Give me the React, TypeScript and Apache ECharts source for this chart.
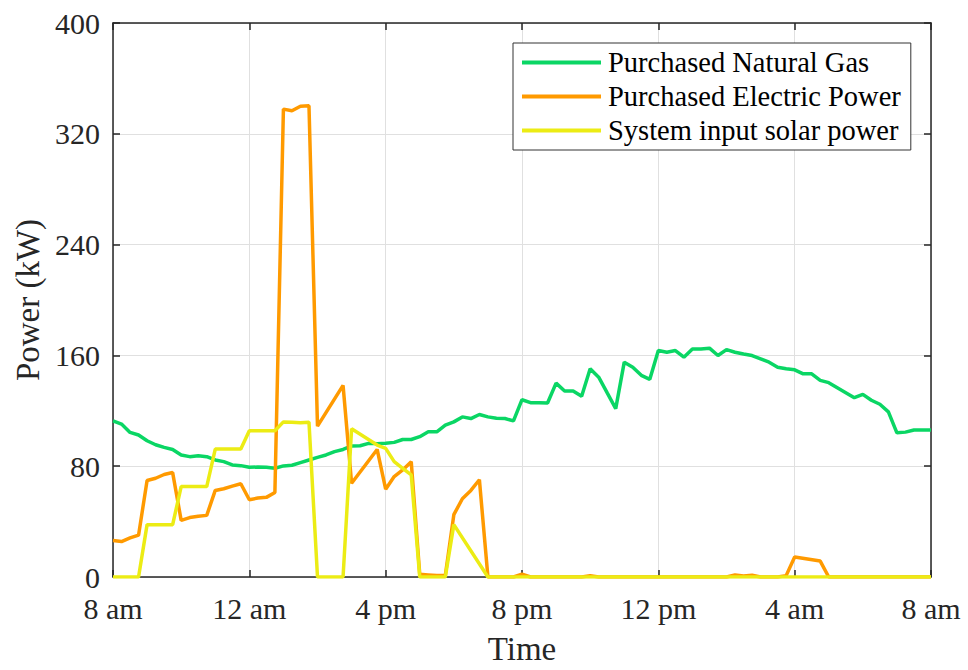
import React, { useEffect, useRef } from "react";
import * as echarts from "echarts";

// Hours since 8 am, ticks every 4 hours
const tickLabels = ["8 am", "12 am", "4 pm", "8 pm", "12 pm", "4 am", "8 am"];

// Purchased natural gas, 15-minute steps from 8 am (kW)
const gasValues = [
  112.7, 110.4, 104.4, 102.5, 98.4, 95.5, 93.6, 92.1, 88.1, 86.9, 87.6, 86.9,
  84.5, 83.3, 80.9, 80.4, 79.2, 79.4, 79.2, 78.5, 80.2, 80.7, 82.6, 84.5,
  86.4, 88.1, 90.5, 92.1, 94.6, 94.8, 96.5, 96.3, 96.5, 97.2, 99.3, 99.3,
  101.3, 104.8, 104.8, 109.6, 112.0, 115.6, 114.4, 117.3, 115.6, 114.6, 114.4, 112.7,
  128.0, 125.9, 125.9, 125.6, 140.0, 134.3, 134.3, 130.5, 150.3, 144.3, 132.9, 121.6,
  155.1, 151.5, 145.6, 142.7, 163.5, 162.3, 163.5, 158.7, 164.7, 164.7, 165.2, 159.9,
  164.2, 162.3, 161.0, 159.9, 157.5, 155.1, 151.5, 150.3, 149.6, 146.7, 146.7, 142.0,
  140.3, 136.7, 133.1, 129.5, 131.9, 127.6, 124.7, 119.2, 104.1, 104.6, 106.1, 106.1,
  106.1,
];

// Purchased electric power, [hour, kW] breakpoints
const electricPoints: [number, number][] = [
  [0, 26.3], [0.25, 25.6], [0.5, 28.2], [0.75, 30.2],
  [1.0, 69.7], [1.25, 71.3], [1.5, 74.0], [1.75, 75.4],
  [2.0, 40.9], [2.25, 42.9], [2.5, 43.8], [2.75, 44.5],
  [3.0, 62.5], [3.25, 63.7], [3.5, 65.6], [3.75, 67.3],
  [4.0, 55.8], [4.25, 57.0], [4.5, 57.5], [4.75, 61.0],
  [5.0, 337.8], [5.25, 336.6], [5.5, 339.9], [5.75, 340.2],
  [6.0, 108.9], [6.75, 138.4], [7.0, 67.7], [7.75, 92.1],
  [8.0, 63.4], [8.25, 72.5], [8.5, 77.3], [8.75, 83.3],
  [9.0, 1.9], [9.25, 1.5], [9.5, 1.0], [9.75, 1.0],
  [10.0, 45.0], [10.25, 56.5], [10.5, 62.5], [10.75, 70.2],
  [11.0, 0], [11.75, 0], [12.0, 2.0], [12.25, 0], [13.75, 0], [14.0, 1.0], [14.25, 0],
  [18.0, 0], [18.25, 1.5], [18.5, 0.8], [18.75, 1.3], [19.0, 0], [19.5, 0], [19.75, 1.0],
  [20.0, 14.4], [20.75, 11.5], [21.0, 0], [24.0, 0],
];

// System input solar power, [hour, kW] breakpoints
const solarPoints: [number, number][] = [
  [0, 0], [0.75, 0], [1.0, 37.8], [1.75, 37.8], [2.0, 65.3], [2.75, 65.3],
  [3.0, 92.4], [3.75, 92.4], [4.0, 105.6], [4.75, 105.6],
  [5.0, 112.0], [5.25, 111.8], [5.5, 111.4], [5.75, 111.8],
  [6.0, 0], [6.75, 0], [7.0, 107.0], [7.75, 95.3], [8.0, 92.9],
  [8.25, 83.3], [8.5, 78.5], [8.75, 73.7], [9.0, 0], [9.75, 0],
  [10.0, 37.8], [11.0, 0], [24.0, 0],
];

const seriesNames = [
  "Purchased Natural Gas",
  "Purchased Electric Power",
  "System input solar power",
];

const FONT = "'Liberation Serif', 'Times New Roman', serif";
const INK = "#262626";

export default function App() {
  const ref = useRef<HTMLDivElement>(null);

  useEffect(() => {
    if (!ref.current) return;
    const chart = echarts.init(ref.current, undefined, { renderer: "svg" });
    const gasData = gasValues.map((v, i) => [i * 0.25, v]);

    const axisCommon = {
      type: "value" as const,
      axisLine: { show: true, onZero: false, lineStyle: { color: INK, width: 1.5 } },
      axisTick: { show: true, inside: true, length: 7, lineStyle: { color: INK, width: 1.5 } },
    };

    chart.setOption({
      animation: false,
      backgroundColor: "#ffffff",
      grid: { left: 113, right: 37, top: 23, bottom: 89 },
      legend: {
        orient: "vertical",
        left: 513,
        top: 43,
        padding: [4, 10, 4, 9],
        itemGap: 3,
        itemWidth: 79,
        itemHeight: 4,
        icon: "rect",
        borderColor: "#333333",
        borderWidth: 1,
        backgroundColor: "#ffffff",
        borderRadius: 0,
        textStyle: { fontFamily: FONT, fontSize: 28.5, color: "#000000", lineHeight: 31, padding: [0, 0, 0, 2] },
        data: seriesNames,
      },
      xAxis: [
        {
          ...axisCommon,
          min: 0,
          max: 24,
          interval: 4,
          position: "bottom",
          name: "Time",
          nameLocation: "middle",
          nameGap: 55,
          nameTextStyle: { fontFamily: FONT, fontSize: 33, color: INK },
          axisLabel: {
            fontFamily: FONT,
            fontSize: 30,
            color: INK,
            margin: 16,
            formatter: (v: number) => tickLabels[Math.round(v / 4)] ?? "",
          },
          splitLine: { show: true, lineStyle: { color: "#e0e0e0", width: 1 } },
        },
        {
          ...axisCommon,
          min: 0,
          max: 24,
          interval: 4,
          position: "top",
          axisLabel: { show: false },
          splitLine: { show: false },
        },
      ],
      yAxis: [
        {
          ...axisCommon,
          min: 0,
          max: 400,
          interval: 80,
          position: "left",
          name: "Power (kW)",
          nameLocation: "middle",
          nameGap: 66,
          nameTextStyle: { fontFamily: FONT, fontSize: 33, color: INK },
          axisLabel: { fontFamily: FONT, fontSize: 30, color: INK, margin: 13 },
          splitLine: { show: true, lineStyle: { color: "#e0e0e0", width: 1 } },
        },
        {
          ...axisCommon,
          min: 0,
          max: 400,
          interval: 80,
          position: "right",
          axisLabel: { show: false },
          splitLine: { show: false },
        },
      ],
      series: [
        {
          name: seriesNames[0],
          type: "line",
          data: gasData,
          symbol: "none",
          lineStyle: { color: "#0ad664", width: 3.5 },
          itemStyle: { color: "#0ad664" },
        },
        {
          name: seriesNames[1],
          type: "line",
          data: electricPoints,
          symbol: "none",
          lineStyle: { color: "#ff9a00", width: 3.5 },
          itemStyle: { color: "#ff9a00" },
        },
        {
          name: seriesNames[2],
          type: "line",
          data: solarPoints,
          symbol: "none",
          lineStyle: { color: "#ecec14", width: 3.5 },
          itemStyle: { color: "#ecec14" },
        },
      ],
    });

    return () => chart.dispose();
  }, []);

  return (
    <div
      ref={ref}
      style={{ position: "fixed", left: 0, top: 0, width: 968, height: 670, background: "#fff" }}
    />
  );
}
